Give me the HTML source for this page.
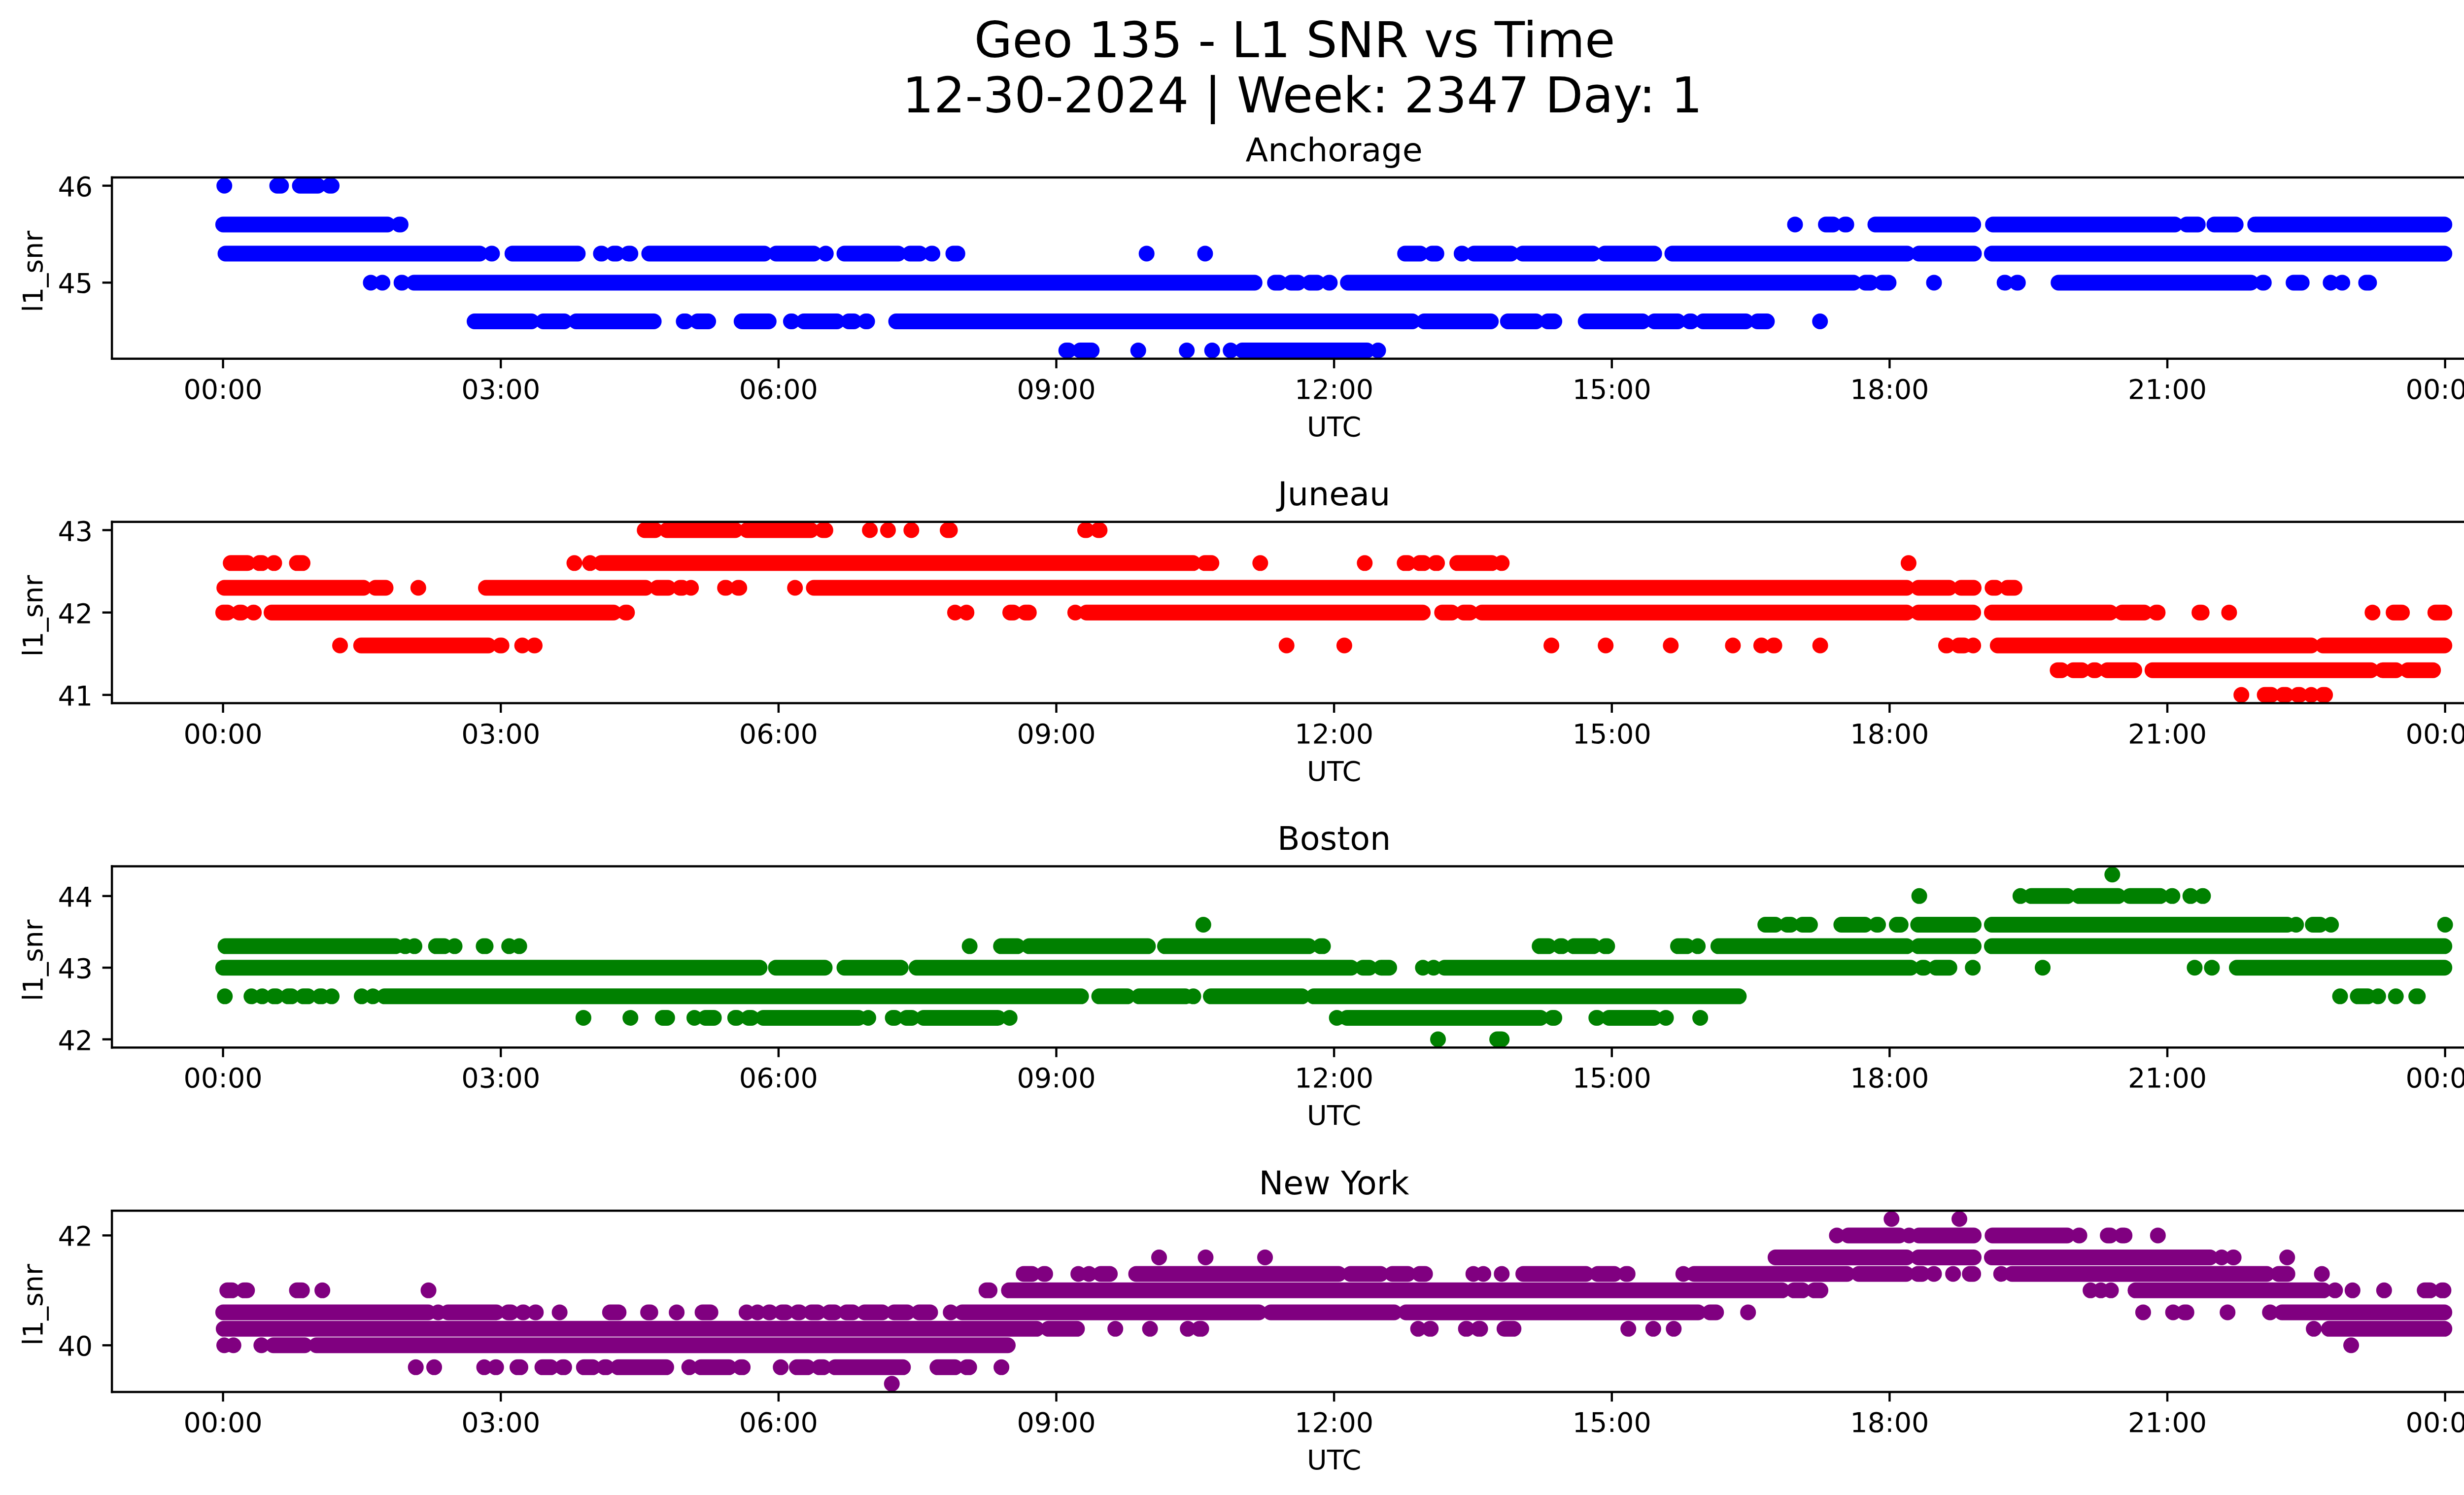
<!DOCTYPE html>
<html><head><meta charset="utf-8"><title>Geo 135 - L1 SNR vs Time</title><style>html,body{margin:0;padding:0;background:#fff;}svg{display:block;}</style></head><body>
<svg width="5226" height="3033" viewBox="0 0 940.6800 545.9400">
 
 <defs>
  <style type="text/css">*{stroke-linejoin: round; stroke-linecap: butt}</style>
 </defs>
 <g id="figure_1">
  <g id="patch_1">
   <path d="M 0 545.87625 
L 940.88125 545.87625 
L 940.88125 0 
L 0 0 
z
" style="fill: #ffffff"/>
  </g>
  <g id="axes_1">
   <g id="patch_2">
    <path d="M 40.88125 130.997015 
L 933.68125 130.997015 
L 933.68125 64.8 
L 40.88125 64.8 
z
" style="fill: #ffffff"/>
   </g>
   <g clip-path="url(#pc7c0ab1081)"><path transform="scale(0.1800000)" d="M455.20 376.72H455.25M562.50 376.72H570.30M608.50 376.72H644.90M668.90 376.72H673.00M452.90 455.38H786.20M810.20 455.38H812.90M3642.50 455.38H3642.55M3705.10 455.38H3719.80M3743.80 455.38H3746.60M3805.50 455.38H4004.10M4044.20 455.38H4413.30M4437.30 455.38H4459.80M4493.40 455.38H4536.70M4576.30 455.38H4960.20M457.50 514.38H973.50M997.50 514.38H998.40M1039.80 514.38H1172.40M1219.40 514.38H1221.20M1245.20 514.38H1251.10M1275.10 514.38H1279.20M1317.40 514.38H1551.00M1575.00 514.38H1651.40M1675.40 514.38H1675.80M1713.50 514.38H1822.60M1846.60 514.38H1866.30M1890.30 514.38H1892.10M1934.50 514.38H1942.80M2326.70 514.38H2326.75M2445.40 514.38H2445.45M2851.20 514.38H2882.00M2906.00 514.38H2914.80M2965.90 514.38H2967.20M2991.20 514.38H3066.00M3090.00 514.38H3232.50M3256.50 514.38H3356.70M3393.50 514.38H3870.00M3894.00 514.38H4005.50M4041.90 514.38H4960.20M752.40 573.38H752.45M775.70 573.38H776.10M814.70 573.38H816.10M840.10 573.38H2545.80M2587.20 573.38H2596.00M2620.00 573.38H2634.10M2658.10 573.38H2672.80M2696.80 573.38H2698.40M2735.20 573.38H3761.20M3785.20 573.38H3795.80M3819.80 573.38H3832.40M3924.50 573.38H3924.55M4067.70 573.38H4069.00M4093.00 573.38H4094.80M4177.20 573.38H4567.50M4591.50 573.38H4593.80M4654.10 573.38H4670.70M4729.35 573.38H4729.40M4752.60 573.38H4753.10M4801.40 573.38H4807.40M963.00 652.05H1078.50M1102.50 652.05H1145.20M1169.20 652.05H1326.60M1387.40 652.05H1391.50M1415.50 652.05H1437.10M1504.80 652.05H1559.80M1604.90 652.05H1607.20M1631.20 652.05H1698.30M1722.30 652.05H1732.80M1756.80 652.05H1759.60M1818.50 652.05H2866.00M2890.00 652.05H3025.20M3059.80 652.05H3116.80M3140.80 652.05H3154.10M3217.70 652.05H3333.20M3357.20 652.05H3404.50M3428.50 652.05H3432.10M3456.10 652.05H3542.60M3566.60 652.05H3585.40M3693.20 652.05H3693.25M2163.70 711.04H2167.90M2191.90 711.04H2215.30M2309.70 711.04H2309.75M2408.20 711.04H2408.25M2459.70 711.04H2459.75M2497.20 711.04H2497.25M2520.90 711.04H2773.90M2796.50 711.04H2796.55" style="fill:none;stroke:#0000ff;stroke-width:32.00;stroke-linecap:round"/></g>
   <g id="matplotlib.axis_1">
    <g id="xtick_1">
     <g id="line2d_1">
      <defs>
       <path id="m1504cfccaf" d="M 0 0 
L 0 3.5 
" style="stroke: #000000; stroke-width: 0.8"/>
      </defs>
      <g>
       <use href="#m1504cfccaf" x="81.463068" y="130.997015" style="stroke: #000000; stroke-width: 0.8"/>
      </g>
     </g>
     <g id="text_1">
      <text style="font-size: 10px; font-family: 'DejaVu Sans', sans-serif; text-anchor: middle" x="81.463068" y="145.595452" transform="rotate(-0 81.463068 145.595452)">00:00</text>
     </g>
    </g>
    <g id="xtick_2">
     <g id="line2d_2">
      <g>
       <use href="#m1504cfccaf" x="182.917614" y="130.997015" style="stroke: #000000; stroke-width: 0.8"/>
      </g>
     </g>
     <g id="text_2">
      <text style="font-size: 10px; font-family: 'DejaVu Sans', sans-serif; text-anchor: middle" x="182.917614" y="145.595452" transform="rotate(-0 182.917614 145.595452)">03:00</text>
     </g>
    </g>
    <g id="xtick_3">
     <g id="line2d_3">
      <g>
       <use href="#m1504cfccaf" x="284.372159" y="130.997015" style="stroke: #000000; stroke-width: 0.8"/>
      </g>
     </g>
     <g id="text_3">
      <text style="font-size: 10px; font-family: 'DejaVu Sans', sans-serif; text-anchor: middle" x="284.372159" y="145.595452" transform="rotate(-0 284.372159 145.595452)">06:00</text>
     </g>
    </g>
    <g id="xtick_4">
     <g id="line2d_4">
      <g>
       <use href="#m1504cfccaf" x="385.826705" y="130.997015" style="stroke: #000000; stroke-width: 0.8"/>
      </g>
     </g>
     <g id="text_4">
      <text style="font-size: 10px; font-family: 'DejaVu Sans', sans-serif; text-anchor: middle" x="385.826705" y="145.595452" transform="rotate(-0 385.826705 145.595452)">09:00</text>
     </g>
    </g>
    <g id="xtick_5">
     <g id="line2d_5">
      <g>
       <use href="#m1504cfccaf" x="487.28125" y="130.997015" style="stroke: #000000; stroke-width: 0.8"/>
      </g>
     </g>
     <g id="text_5">
      <text style="font-size: 10px; font-family: 'DejaVu Sans', sans-serif; text-anchor: middle" x="487.28125" y="145.595452" transform="rotate(-0 487.28125 145.595452)">12:00</text>
     </g>
    </g>
    <g id="xtick_6">
     <g id="line2d_6">
      <g>
       <use href="#m1504cfccaf" x="588.735795" y="130.997015" style="stroke: #000000; stroke-width: 0.8"/>
      </g>
     </g>
     <g id="text_6">
      <text style="font-size: 10px; font-family: 'DejaVu Sans', sans-serif; text-anchor: middle" x="588.735795" y="145.595452" transform="rotate(-0 588.735795 145.595452)">15:00</text>
     </g>
    </g>
    <g id="xtick_7">
     <g id="line2d_7">
      <g>
       <use href="#m1504cfccaf" x="690.190341" y="130.997015" style="stroke: #000000; stroke-width: 0.8"/>
      </g>
     </g>
     <g id="text_7">
      <text style="font-size: 10px; font-family: 'DejaVu Sans', sans-serif; text-anchor: middle" x="690.190341" y="145.595452" transform="rotate(-0 690.190341 145.595452)">18:00</text>
     </g>
    </g>
    <g id="xtick_8">
     <g id="line2d_8">
      <g>
       <use href="#m1504cfccaf" x="791.644886" y="130.997015" style="stroke: #000000; stroke-width: 0.8"/>
      </g>
     </g>
     <g id="text_8">
      <text style="font-size: 10px; font-family: 'DejaVu Sans', sans-serif; text-anchor: middle" x="791.644886" y="145.595452" transform="rotate(-0 791.644886 145.595452)">21:00</text>
     </g>
    </g>
    <g id="xtick_9">
     <g id="line2d_9">
      <g>
       <use href="#m1504cfccaf" x="893.099432" y="130.997015" style="stroke: #000000; stroke-width: 0.8"/>
      </g>
     </g>
     <g id="text_9">
      <text style="font-size: 10px; font-family: 'DejaVu Sans', sans-serif; text-anchor: middle" x="893.099432" y="145.595452" transform="rotate(-0 893.099432 145.595452)">00:00</text>
     </g>
    </g>
    <g id="text_10">
     <text style="font-size: 10px; font-family: 'DejaVu Sans', sans-serif; text-anchor: middle" x="487.28125" y="159.273577" transform="rotate(-0 487.28125 159.273577)">UTC</text>
    </g>
   </g>
   <g id="matplotlib.axis_2">
    <g id="ytick_1">
     <g id="line2d_10">
      <defs>
       <path id="m5d545ce8f8" d="M 0 0 
L -3.5 0 
" style="stroke: #000000; stroke-width: 0.8"/>
      </defs>
      <g>
       <use href="#m5d545ce8f8" x="40.88125" y="103.208428" style="stroke: #000000; stroke-width: 0.8"/>
      </g>
     </g>
     <g id="text_11">
      <text style="font-size: 10px; font-family: 'DejaVu Sans', sans-serif; text-anchor: end" x="33.88125" y="107.007647" transform="rotate(-0 33.88125 107.007647)">45</text>
     </g>
    </g>
    <g id="ytick_2">
     <g id="line2d_11">
      <g>
       <use href="#m5d545ce8f8" x="40.88125" y="67.808955" style="stroke: #000000; stroke-width: 0.8"/>
      </g>
     </g>
     <g id="text_12">
      <text style="font-size: 10px; font-family: 'DejaVu Sans', sans-serif; text-anchor: end" x="33.88125" y="71.608174" transform="rotate(-0 33.88125 71.608174)">46</text>
     </g>
    </g>
    <g id="text_13">
     <g transform="translate(0.729 1.215)"><text style="font-size: 10px; font-family: 'DejaVu Sans', sans-serif; text-anchor: middle" x="14.798437" y="97.898507" transform="rotate(-90 14.798437 97.898507)">l1_snr</text></g>
    </g>
   </g>
   <g id="patch_3">
    <path d="M 40.88125 130.997015 
L 40.88125 64.8 
" style="fill: none; stroke: #000000; stroke-width: 0.8; stroke-linejoin: miter; stroke-linecap: square"/>
   </g>
   <g id="patch_4">
    <path d="M 933.68125 130.997015 
L 933.68125 64.8 
" style="fill: none; stroke: #000000; stroke-width: 0.8; stroke-linejoin: miter; stroke-linecap: square"/>
   </g>
   <g id="patch_5">
    <path d="M 40.88125 130.997015 
L 933.68125 130.997015 
" style="fill: none; stroke: #000000; stroke-width: 0.8; stroke-linejoin: miter; stroke-linecap: square"/>
   </g>
   <g id="patch_6">
    <path d="M 40.88125 64.8 
L 933.68125 64.8 
" style="fill: none; stroke: #000000; stroke-width: 0.8; stroke-linejoin: miter; stroke-linecap: square"/>
   </g>
   <g id="text_14">
    <text style="font-size: 12px; font-family: 'DejaVu Sans', sans-serif; text-anchor: middle" x="487.28125" y="58.8" transform="rotate(-0 487.28125 58.8)">Anchorage</text>
   </g>
  </g>
  <g id="axes_2">
   <g id="patch_7">
    <path d="M 40.88125 256.771343 
L 933.68125 256.771343 
L 933.68125 190.574328 
L 40.88125 190.574328 
z
" style="fill: #ffffff"/>
   </g>
   <g clip-path="url(#p37e5c32da8)"><path transform="scale(0.1800000)" d="M1308.20 1075.46H1329.40M1353.40 1075.46H1492.00M1516.00 1075.46H1645.40M1669.40 1075.46H1674.90M1765.10 1075.46H1765.15M1801.90 1075.46H1801.95M1849.30 1075.46H1849.35M1923.00 1075.46H1927.60M2202.00 1075.46H2204.70M2228.70 1075.46H2231.40M468.10 1142.33H502.20M526.20 1142.33H531.60M555.60 1142.33H556.50M602.50 1142.33H614.00M1165.50 1142.33H1165.55M1197.25 1142.33H1197.30M1219.90 1142.33H2421.00M2445.00 1142.33H2458.30M2557.30 1142.33H2557.35M2769.30 1142.33H2769.35M2850.30 1142.33H2856.70M2880.70 1142.33H2889.00M2913.00 1142.33H2916.10M2957.10 1142.33H3027.00M3047.30 1142.33H3047.35M3872.90 1142.33H3872.95M455.20 1192.48H737.80M761.80 1192.48H782.50M848.80 1192.48H848.85M986.00 1192.48H1310.00M1334.00 1192.48H1356.00M1380.00 1192.48H1384.60M1402.10 1192.48H1402.15M1471.20 1192.48H1473.50M1497.50 1192.48H1500.20M1613.20 1192.48H1613.25M1651.40 1192.48H3869.00M3893.00 1192.48H3955.30M3979.30 1192.48H4005.00M4043.30 1192.48H4049.70M4073.70 1192.48H4087.90M452.90 1242.63H461.70M485.70 1242.63H490.20M514.20 1242.63H515.10M551.00 1242.63H1245.10M1269.10 1242.63H1272.30M1937.95 1242.63H1938.00M1961.20 1242.63H1961.25M2050.00 1242.63H2056.40M2080.40 1242.63H2087.80M2181.90 1242.63H2181.95M2204.70 1242.63H2887.10M2926.30 1242.63H2946.00M2970.00 1242.63H2983.00M3007.00 1242.63H3869.00M3893.00 1242.63H4004.10M4041.90 1242.63H4282.10M4306.10 1242.63H4351.20M4375.20 1242.63H4378.40M4463.10 1242.63H4467.70M4523.40 1242.63H4523.45M4814.30 1242.63H4814.35M4857.10 1242.63H4874.10M4941.80 1242.63H4960.20M690.00 1309.49H690.05M732.80 1309.49H991.00M1015.00 1309.49H1017.70M1059.60 1309.49H1060.10M1084.10 1309.49H1085.00M2610.70 1309.49H2610.75M2727.90 1309.49H2727.95M3148.10 1309.49H3148.15M3258.20 1309.49H3258.25M3390.30 1309.49H3390.35M3516.40 1309.49H3516.45M3573.90 1309.49H3574.80M3598.80 1309.49H3600.60M3693.60 1309.49H3693.65M3948.90 1309.49H3950.70M3974.70 1309.49H3985.20M4004.10 1309.49H4004.15M4053.80 1309.49H4690.00M4714.00 1309.49H4960.20M4175.40 1359.64H4183.20M4207.20 1359.64H4224.60M4248.60 1359.64H4252.20M4276.20 1359.64H4331.00M4367.80 1359.64H4811.00M4835.00 1359.64H4862.00M4886.00 1359.64H4937.20M4548.20 1409.79H4548.25M4595.60 1409.79H4609.00M4633.00 1409.79H4638.90M4662.90 1409.79H4666.50M4690.00 1409.79H4690.05M4713.50 1409.79H4718.10" style="fill:none;stroke:#ff0000;stroke-width:32.00;stroke-linecap:round"/></g>
   <g id="matplotlib.axis_3">
    <g id="xtick_10">
     <g id="line2d_12">
      <g>
       <use href="#m1504cfccaf" x="81.463068" y="256.771343" style="stroke: #000000; stroke-width: 0.8"/>
      </g>
     </g>
     <g id="text_15">
      <text style="font-size: 10px; font-family: 'DejaVu Sans', sans-serif; text-anchor: middle" x="81.463068" y="271.369781" transform="rotate(-0 81.463068 271.369781)">00:00</text>
     </g>
    </g>
    <g id="xtick_11">
     <g id="line2d_13">
      <g>
       <use href="#m1504cfccaf" x="182.917614" y="256.771343" style="stroke: #000000; stroke-width: 0.8"/>
      </g>
     </g>
     <g id="text_16">
      <text style="font-size: 10px; font-family: 'DejaVu Sans', sans-serif; text-anchor: middle" x="182.917614" y="271.369781" transform="rotate(-0 182.917614 271.369781)">03:00</text>
     </g>
    </g>
    <g id="xtick_12">
     <g id="line2d_14">
      <g>
       <use href="#m1504cfccaf" x="284.372159" y="256.771343" style="stroke: #000000; stroke-width: 0.8"/>
      </g>
     </g>
     <g id="text_17">
      <text style="font-size: 10px; font-family: 'DejaVu Sans', sans-serif; text-anchor: middle" x="284.372159" y="271.369781" transform="rotate(-0 284.372159 271.369781)">06:00</text>
     </g>
    </g>
    <g id="xtick_13">
     <g id="line2d_15">
      <g>
       <use href="#m1504cfccaf" x="385.826705" y="256.771343" style="stroke: #000000; stroke-width: 0.8"/>
      </g>
     </g>
     <g id="text_18">
      <text style="font-size: 10px; font-family: 'DejaVu Sans', sans-serif; text-anchor: middle" x="385.826705" y="271.369781" transform="rotate(-0 385.826705 271.369781)">09:00</text>
     </g>
    </g>
    <g id="xtick_14">
     <g id="line2d_16">
      <g>
       <use href="#m1504cfccaf" x="487.28125" y="256.771343" style="stroke: #000000; stroke-width: 0.8"/>
      </g>
     </g>
     <g id="text_19">
      <text style="font-size: 10px; font-family: 'DejaVu Sans', sans-serif; text-anchor: middle" x="487.28125" y="271.369781" transform="rotate(-0 487.28125 271.369781)">12:00</text>
     </g>
    </g>
    <g id="xtick_15">
     <g id="line2d_17">
      <g>
       <use href="#m1504cfccaf" x="588.735795" y="256.771343" style="stroke: #000000; stroke-width: 0.8"/>
      </g>
     </g>
     <g id="text_20">
      <text style="font-size: 10px; font-family: 'DejaVu Sans', sans-serif; text-anchor: middle" x="588.735795" y="271.369781" transform="rotate(-0 588.735795 271.369781)">15:00</text>
     </g>
    </g>
    <g id="xtick_16">
     <g id="line2d_18">
      <g>
       <use href="#m1504cfccaf" x="690.190341" y="256.771343" style="stroke: #000000; stroke-width: 0.8"/>
      </g>
     </g>
     <g id="text_21">
      <text style="font-size: 10px; font-family: 'DejaVu Sans', sans-serif; text-anchor: middle" x="690.190341" y="271.369781" transform="rotate(-0 690.190341 271.369781)">18:00</text>
     </g>
    </g>
    <g id="xtick_17">
     <g id="line2d_19">
      <g>
       <use href="#m1504cfccaf" x="791.644886" y="256.771343" style="stroke: #000000; stroke-width: 0.8"/>
      </g>
     </g>
     <g id="text_22">
      <text style="font-size: 10px; font-family: 'DejaVu Sans', sans-serif; text-anchor: middle" x="791.644886" y="271.369781" transform="rotate(-0 791.644886 271.369781)">21:00</text>
     </g>
    </g>
    <g id="xtick_18">
     <g id="line2d_20">
      <g>
       <use href="#m1504cfccaf" x="893.099432" y="256.771343" style="stroke: #000000; stroke-width: 0.8"/>
      </g>
     </g>
     <g id="text_23">
      <text style="font-size: 10px; font-family: 'DejaVu Sans', sans-serif; text-anchor: middle" x="893.099432" y="271.369781" transform="rotate(-0 893.099432 271.369781)">00:00</text>
     </g>
    </g>
    <g id="text_24">
     <text style="font-size: 10px; font-family: 'DejaVu Sans', sans-serif; text-anchor: middle" x="487.28125" y="285.047906" transform="rotate(-0 487.28125 285.047906)">UTC</text>
    </g>
   </g>
   <g id="matplotlib.axis_4">
    <g id="ytick_3">
     <g id="line2d_21">
      <g>
       <use href="#m5d545ce8f8" x="40.88125" y="253.762388" style="stroke: #000000; stroke-width: 0.8"/>
      </g>
     </g>
     <g id="text_25">
      <text style="font-size: 10px; font-family: 'DejaVu Sans', sans-serif; text-anchor: end" x="33.88125" y="257.561607" transform="rotate(-0 33.88125 257.561607)">41</text>
     </g>
    </g>
    <g id="ytick_4">
     <g id="line2d_22">
      <g>
       <use href="#m5d545ce8f8" x="40.88125" y="223.672836" style="stroke: #000000; stroke-width: 0.8"/>
      </g>
     </g>
     <g id="text_26">
      <text style="font-size: 10px; font-family: 'DejaVu Sans', sans-serif; text-anchor: end" x="33.88125" y="227.472055" transform="rotate(-0 33.88125 227.472055)">42</text>
     </g>
    </g>
    <g id="ytick_5">
     <g id="line2d_23">
      <g>
       <use href="#m5d545ce8f8" x="40.88125" y="193.583284" style="stroke: #000000; stroke-width: 0.8"/>
      </g>
     </g>
     <g id="text_27">
      <text style="font-size: 10px; font-family: 'DejaVu Sans', sans-serif; text-anchor: end" x="33.88125" y="197.382502" transform="rotate(-0 33.88125 197.382502)">43</text>
     </g>
    </g>
    <g id="text_28">
     <g transform="translate(0.729 1.215)"><text style="font-size: 10px; font-family: 'DejaVu Sans', sans-serif; text-anchor: middle" x="14.798437" y="223.672836" transform="rotate(-90 14.798437 223.672836)">l1_snr</text></g>
    </g>
   </g>
   <g id="patch_8">
    <path d="M 40.88125 256.771343 
L 40.88125 190.574328 
" style="fill: none; stroke: #000000; stroke-width: 0.8; stroke-linejoin: miter; stroke-linecap: square"/>
   </g>
   <g id="patch_9">
    <path d="M 933.68125 256.771343 
L 933.68125 190.574328 
" style="fill: none; stroke: #000000; stroke-width: 0.8; stroke-linejoin: miter; stroke-linecap: square"/>
   </g>
   <g id="patch_10">
    <path d="M 40.88125 256.771343 
L 933.68125 256.771343 
" style="fill: none; stroke: #000000; stroke-width: 0.8; stroke-linejoin: miter; stroke-linecap: square"/>
   </g>
   <g id="patch_11">
    <path d="M 40.88125 190.574328 
L 933.68125 190.574328 
" style="fill: none; stroke: #000000; stroke-width: 0.8; stroke-linejoin: miter; stroke-linecap: square"/>
   </g>
   <g id="text_29">
    <text style="font-size: 12px; font-family: 'DejaVu Sans', sans-serif; text-anchor: middle" x="487.28125" y="184.574328" transform="rotate(-0 487.28125 184.574328)">Juneau</text>
   </g>
  </g>
  <g id="axes_3">
   <g id="patch_12">
    <path d="M 40.88125 382.545672 
L 933.68125 382.545672 
L 933.68125 316.348657 
L 40.88125 316.348657 
z
" style="fill: #ffffff"/>
   </g>
   <g clip-path="url(#pacfd43c42e)"><path transform="scale(0.1800000)" d="M4286.30 1774.21H4286.35M3894.60 1817.82H3894.65M4099.85 1817.82H4099.90M4122.00 1817.82H4195.00M4219.00 1817.82H4298.00M4322.00 1817.82H4383.40M4407.40 1817.82H4408.30M4444.70 1817.82H4445.50M4469.50 1817.82H4470.40M2441.80 1875.96H2441.85M3582.20 1875.96H3602.50M3626.50 1875.96H3633.70M3657.70 1875.96H3672.90M3736.40 1875.96H3784.30M3808.30 1875.96H3811.00M3849.00 1875.96H3856.80M3892.30 1875.96H4005.00M4041.90 1875.96H4641.20M4659.20 1875.96H4659.25M4693.20 1875.96H4707.90M4730.10 1875.96H4730.15M4961.60 1875.96H4961.65M457.50 1919.57H802.30M822.35 1919.57H822.40M841.00 1919.57H841.05M884.70 1919.57H901.30M922.50 1919.57H922.55M981.40 1919.57H985.50M1033.15 1919.57H1033.20M1053.70 1919.57H1053.75M1967.60 1919.57H1967.65M2031.20 1919.57H2064.30M2088.30 1919.57H2329.40M2364.00 1919.57H2655.80M2679.80 1919.57H2684.60M3124.20 1919.57H3142.10M3166.10 1919.57H3169.70M3193.70 1919.57H3233.30M3257.30 1919.57H3261.40M3405.00 1919.57H3422.90M3445.10 1919.57H3445.15M3486.90 1919.57H3869.00M3893.00 1919.57H4005.00M4041.90 1919.57H4960.20M452.90 1963.18H1541.40M1574.50 1963.18H1673.50M1713.50 1963.18H1827.70M1859.90 1963.18H2741.70M2765.70 1963.18H2778.50M2802.50 1963.18H2819.00M2887.40 1963.18H2887.45M2909.05 1963.18H2909.10M2931.40 1963.18H3877.00M3901.00 1963.18H3904.70M3928.70 1963.18H3955.80M4003.20 1963.18H4003.25M4145.00 1963.18H4145.05M4453.40 1963.18H4453.45M4488.40 1963.18H4488.45M4539.00 1963.18H4960.20M456.20 2021.32H456.25M510.25 2021.32H510.30M532.10 2021.32H532.15M555.60 2021.32H560.60M584.60 2021.32H591.50M615.50 2021.32H625.10M649.10 2021.32H652.70M673.00 2021.32H673.05M733.95 2021.32H734.00M756.75 2021.32H756.80M780.30 2021.32H2193.70M2230.50 2021.32H2287.50M2311.50 2021.32H2404.90M2421.50 2021.32H2421.55M2457.00 2021.32H2642.00M2666.00 2021.32H3528.40M4748.50 2021.32H4748.55M4784.40 2021.32H4804.60M4825.80 2021.32H4825.85M4861.70 2021.32H4861.75M4903.10 2021.32H4906.30M1183.90 2064.93H1183.95M1279.20 2064.93H1279.25M1345.00 2064.93H1353.80M1409.00 2064.93H1409.05M1431.60 2064.93H1448.60M1491.90 2064.93H1495.10M1519.10 2064.93H1525.00M1549.00 2064.93H1742.10M1761.90 2064.93H1761.95M1811.60 2064.93H1815.70M1839.70 2064.93H1850.20M1874.20 2064.93H2025.10M2048.70 2064.93H2048.75M2712.65 2064.93H2712.70M2733.40 2064.93H3126.00M3150.00 2064.93H3154.10M3239.30 2064.93H3241.10M3265.10 2064.93H3356.20M3380.20 2064.93H3380.60M3450.10 2064.93H3450.15M2918.00 2108.54H2918.05M3038.10 2108.54H3047.30" style="fill:none;stroke:#008000;stroke-width:32.00;stroke-linecap:round"/></g>
   <g id="matplotlib.axis_5">
    <g id="xtick_19">
     <g id="line2d_24">
      <g>
       <use href="#m1504cfccaf" x="81.463068" y="382.545672" style="stroke: #000000; stroke-width: 0.8"/>
      </g>
     </g>
     <g id="text_30">
      <text style="font-size: 10px; font-family: 'DejaVu Sans', sans-serif; text-anchor: middle" x="81.463068" y="397.144109" transform="rotate(-0 81.463068 397.144109)">00:00</text>
     </g>
    </g>
    <g id="xtick_20">
     <g id="line2d_25">
      <g>
       <use href="#m1504cfccaf" x="182.917614" y="382.545672" style="stroke: #000000; stroke-width: 0.8"/>
      </g>
     </g>
     <g id="text_31">
      <text style="font-size: 10px; font-family: 'DejaVu Sans', sans-serif; text-anchor: middle" x="182.917614" y="397.144109" transform="rotate(-0 182.917614 397.144109)">03:00</text>
     </g>
    </g>
    <g id="xtick_21">
     <g id="line2d_26">
      <g>
       <use href="#m1504cfccaf" x="284.372159" y="382.545672" style="stroke: #000000; stroke-width: 0.8"/>
      </g>
     </g>
     <g id="text_32">
      <text style="font-size: 10px; font-family: 'DejaVu Sans', sans-serif; text-anchor: middle" x="284.372159" y="397.144109" transform="rotate(-0 284.372159 397.144109)">06:00</text>
     </g>
    </g>
    <g id="xtick_22">
     <g id="line2d_27">
      <g>
       <use href="#m1504cfccaf" x="385.826705" y="382.545672" style="stroke: #000000; stroke-width: 0.8"/>
      </g>
     </g>
     <g id="text_33">
      <text style="font-size: 10px; font-family: 'DejaVu Sans', sans-serif; text-anchor: middle" x="385.826705" y="397.144109" transform="rotate(-0 385.826705 397.144109)">09:00</text>
     </g>
    </g>
    <g id="xtick_23">
     <g id="line2d_28">
      <g>
       <use href="#m1504cfccaf" x="487.28125" y="382.545672" style="stroke: #000000; stroke-width: 0.8"/>
      </g>
     </g>
     <g id="text_34">
      <text style="font-size: 10px; font-family: 'DejaVu Sans', sans-serif; text-anchor: middle" x="487.28125" y="397.144109" transform="rotate(-0 487.28125 397.144109)">12:00</text>
     </g>
    </g>
    <g id="xtick_24">
     <g id="line2d_29">
      <g>
       <use href="#m1504cfccaf" x="588.735795" y="382.545672" style="stroke: #000000; stroke-width: 0.8"/>
      </g>
     </g>
     <g id="text_35">
      <text style="font-size: 10px; font-family: 'DejaVu Sans', sans-serif; text-anchor: middle" x="588.735795" y="397.144109" transform="rotate(-0 588.735795 397.144109)">15:00</text>
     </g>
    </g>
    <g id="xtick_25">
     <g id="line2d_30">
      <g>
       <use href="#m1504cfccaf" x="690.190341" y="382.545672" style="stroke: #000000; stroke-width: 0.8"/>
      </g>
     </g>
     <g id="text_36">
      <text style="font-size: 10px; font-family: 'DejaVu Sans', sans-serif; text-anchor: middle" x="690.190341" y="397.144109" transform="rotate(-0 690.190341 397.144109)">18:00</text>
     </g>
    </g>
    <g id="xtick_26">
     <g id="line2d_31">
      <g>
       <use href="#m1504cfccaf" x="791.644886" y="382.545672" style="stroke: #000000; stroke-width: 0.8"/>
      </g>
     </g>
     <g id="text_37">
      <text style="font-size: 10px; font-family: 'DejaVu Sans', sans-serif; text-anchor: middle" x="791.644886" y="397.144109" transform="rotate(-0 791.644886 397.144109)">21:00</text>
     </g>
    </g>
    <g id="xtick_27">
     <g id="line2d_32">
      <g>
       <use href="#m1504cfccaf" x="893.099432" y="382.545672" style="stroke: #000000; stroke-width: 0.8"/>
      </g>
     </g>
     <g id="text_38">
      <text style="font-size: 10px; font-family: 'DejaVu Sans', sans-serif; text-anchor: middle" x="893.099432" y="397.144109" transform="rotate(-0 893.099432 397.144109)">00:00</text>
     </g>
    </g>
    <g id="text_39">
     <text style="font-size: 10px; font-family: 'DejaVu Sans', sans-serif; text-anchor: middle" x="487.28125" y="410.822234" transform="rotate(-0 487.28125 410.822234)">UTC</text>
    </g>
   </g>
   <g id="matplotlib.axis_6">
    <g id="ytick_6">
     <g id="line2d_33">
      <g>
       <use href="#m5d545ce8f8" x="40.88125" y="379.536716" style="stroke: #000000; stroke-width: 0.8"/>
      </g>
     </g>
     <g id="text_40">
      <text style="font-size: 10px; font-family: 'DejaVu Sans', sans-serif; text-anchor: end" x="33.88125" y="383.335935" transform="rotate(-0 33.88125 383.335935)">42</text>
     </g>
    </g>
    <g id="ytick_7">
     <g id="line2d_34">
      <g>
       <use href="#m5d545ce8f8" x="40.88125" y="353.371888" style="stroke: #000000; stroke-width: 0.8"/>
      </g>
     </g>
     <g id="text_41">
      <text style="font-size: 10px; font-family: 'DejaVu Sans', sans-serif; text-anchor: end" x="33.88125" y="357.171107" transform="rotate(-0 33.88125 357.171107)">43</text>
     </g>
    </g>
    <g id="ytick_8">
     <g id="line2d_35">
      <g>
       <use href="#m5d545ce8f8" x="40.88125" y="327.20706" style="stroke: #000000; stroke-width: 0.8"/>
      </g>
     </g>
     <g id="text_42">
      <text style="font-size: 10px; font-family: 'DejaVu Sans', sans-serif; text-anchor: end" x="33.88125" y="331.006279" transform="rotate(-0 33.88125 331.006279)">44</text>
     </g>
    </g>
    <g id="text_43">
     <g transform="translate(0.729 1.215)"><text style="font-size: 10px; font-family: 'DejaVu Sans', sans-serif; text-anchor: middle" x="14.798437" y="349.447164" transform="rotate(-90 14.798437 349.447164)">l1_snr</text></g>
    </g>
   </g>
   <g id="patch_13">
    <path d="M 40.88125 382.545672 
L 40.88125 316.348657 
" style="fill: none; stroke: #000000; stroke-width: 0.8; stroke-linejoin: miter; stroke-linecap: square"/>
   </g>
   <g id="patch_14">
    <path d="M 933.68125 382.545672 
L 933.68125 316.348657 
" style="fill: none; stroke: #000000; stroke-width: 0.8; stroke-linejoin: miter; stroke-linecap: square"/>
   </g>
   <g id="patch_15">
    <path d="M 40.88125 382.545672 
L 933.68125 382.545672 
" style="fill: none; stroke: #000000; stroke-width: 0.8; stroke-linejoin: miter; stroke-linecap: square"/>
   </g>
   <g id="patch_16">
    <path d="M 40.88125 316.348657 
L 933.68125 316.348657 
" style="fill: none; stroke: #000000; stroke-width: 0.8; stroke-linejoin: miter; stroke-linecap: square"/>
   </g>
   <g id="text_44">
    <text style="font-size: 12px; font-family: 'DejaVu Sans', sans-serif; text-anchor: middle" x="487.28125" y="310.348657" transform="rotate(-0 487.28125 310.348657)">Boston</text>
   </g>
  </g>
  <g id="axes_4">
   <g id="patch_17">
    <path d="M 40.88125 508.32 
L 933.68125 508.32 
L 933.68125 442.122985 
L 40.88125 442.122985 
z
" style="fill: #ffffff"/>
   </g>
   <g clip-path="url(#pfaadddbb3b)"><path transform="scale(0.1800000)" d="M3838.30 2472.96H3838.35M3976.00 2472.96H3976.05M3727.40 2506.39H3727.45M3750.70 2506.39H3854.00M3874.05 2506.39H3874.10M3894.10 2506.39H4005.00M4043.30 2506.39H4194.70M4218.70 2506.39H4219.60M4277.10 2506.39H4282.10M4306.10 2506.39H4311.20M4378.80 2506.39H4378.85M2352.00 2550.97H2352.05M2446.40 2550.97H2446.45M2567.00 2550.97H2567.05M3602.90 2550.97H3869.00M3893.00 2550.97H4005.00M4041.90 2550.97H4484.70M4508.20 2550.97H4508.25M4531.70 2550.97H4532.60M4641.20 2550.97H4641.25M2077.20 2584.40H2094.20M2118.20 2584.40H2120.90M2188.15 2584.40H2188.20M2209.80 2584.40H2209.85M2233.30 2584.40H2252.10M2305.50 2584.40H2716.30M2740.30 2584.40H2801.50M2825.50 2584.40H2856.70M2880.70 2584.40H2891.70M2989.75 2584.40H2989.80M3010.00 2584.40H3010.05M3047.30 2584.40H3047.35M3091.10 2584.40H3218.10M3242.10 2584.40H3275.60M3299.60 2584.40H3302.80M3415.80 2584.40H3415.85M3437.70 2584.40H3748.00M3772.00 2584.40H3867.80M3891.80 2584.40H3900.10M3924.10 2584.40H3924.50M3963.20 2584.40H3963.25M3997.20 2584.40H4004.10M4060.75 2584.40H4060.80M4082.90 2584.40H4599.70M4623.70 2584.40H4641.70M4711.60 2584.40H4711.65M461.20 2617.83H470.90M494.90 2617.83H501.30M602.50 2617.83H612.70M654.10 2617.83H654.15M869.50 2617.83H869.55M2001.70 2617.83H2008.10M2047.30 2617.83H3616.30M3640.30 2617.83H3657.70M3681.70 2617.83H3694.10M4242.10 2617.83H4242.15M4263.05 2617.83H4263.10M4283.50 2617.83H4283.55M4333.30 2617.83H4714.80M4738.30 2617.83H4738.35M4773.80 2617.83H4773.85M4837.80 2617.83H4837.85M4920.20 2617.83H4931.20M4955.20 2617.83H4958.40M452.90 2662.41H869.00M889.05 2662.41H889.10M909.10 2662.41H1007.10M1031.10 2662.41H1037.00M1061.00 2662.41H1062.40M1086.40 2662.41H1087.30M1135.60 2662.41H1135.65M1237.80 2662.41H1255.30M1315.10 2662.41H1319.70M1373.10 2662.41H1373.15M1425.60 2662.41H1441.70M1514.90 2662.41H1514.95M1537.00 2662.41H1537.05M1560.50 2662.41H1562.50M1586.50 2662.41H1594.70M1618.70 2662.41H1622.40M1646.40 2662.41H1659.20M1683.20 2662.41H1693.70M1717.70 2662.41H1730.50M1754.50 2662.41H1790.40M1814.40 2662.41H1841.00M1865.00 2662.41H1887.50M1929.20 2662.41H1929.25M1952.50 2662.41H2554.50M2578.50 2662.41H2829.10M2853.10 2662.41H3445.90M3469.90 2662.41H3482.30M3547.20 2662.41H3547.25M4348.90 2662.41H4348.95M4409.65 2662.41H4409.70M4432.70 2662.41H4436.80M4520.20 2662.41H4520.25M4606.20 2662.41H4606.70M4630.70 2662.41H4960.20M453.90 2695.84H2103.40M2127.40 2695.84H2185.40M2263.20 2695.84H2263.25M2333.60 2695.84H2333.65M2410.20 2695.84H2410.25M2433.50 2695.84H2437.60M2877.65 2695.84H2877.70M2901.40 2695.84H2903.30M2974.60 2695.84H2976.40M3000.40 2695.84H3003.60M3052.90 2695.84H3071.30M3304.20 2695.84H3304.25M3354.80 2695.84H3354.85M3396.30 2695.84H3396.35M4695.10 2695.84H4695.15M4725.90 2695.84H4960.20M455.00 2729.27H455.05M473.70 2729.27H473.75M530.30 2729.27H530.70M554.70 2729.27H618.20M642.20 2729.27H2045.00M4771.00 2729.27H4771.05M843.70 2773.85H843.75M881.00 2773.85H881.05M982.50 2773.85H982.55M1005.80 2773.85H1006.70M1050.00 2773.85H1056.00M1100.60 2773.85H1117.60M1141.60 2773.85H1144.80M1184.80 2773.85H1202.80M1226.80 2773.85H1230.40M1254.40 2773.85H1351.90M1398.65 2773.85H1398.70M1422.40 2773.85H1479.00M1503.00 2773.85H1507.10M1584.20 2773.85H1584.25M1616.90 2773.85H1638.50M1662.50 2773.85H1670.70M1694.70 2773.85H1832.30M1902.30 2773.85H1937.70M1961.70 2773.85H1966.70M2032.10 2773.85H2032.15M1809.70 2807.28H1809.75" style="fill:none;stroke:#800080;stroke-width:32.00;stroke-linecap:round"/></g>
   <g id="matplotlib.axis_7">
    <g id="xtick_28">
     <g id="line2d_36">
      <g>
       <use href="#m1504cfccaf" x="81.463068" y="508.32" style="stroke: #000000; stroke-width: 0.8"/>
      </g>
     </g>
     <g id="text_45">
      <text style="font-size: 10px; font-family: 'DejaVu Sans', sans-serif; text-anchor: middle" x="81.463068" y="522.918437" transform="rotate(-0 81.463068 522.918437)">00:00</text>
     </g>
    </g>
    <g id="xtick_29">
     <g id="line2d_37">
      <g>
       <use href="#m1504cfccaf" x="182.917614" y="508.32" style="stroke: #000000; stroke-width: 0.8"/>
      </g>
     </g>
     <g id="text_46">
      <text style="font-size: 10px; font-family: 'DejaVu Sans', sans-serif; text-anchor: middle" x="182.917614" y="522.918437" transform="rotate(-0 182.917614 522.918437)">03:00</text>
     </g>
    </g>
    <g id="xtick_30">
     <g id="line2d_38">
      <g>
       <use href="#m1504cfccaf" x="284.372159" y="508.32" style="stroke: #000000; stroke-width: 0.8"/>
      </g>
     </g>
     <g id="text_47">
      <text style="font-size: 10px; font-family: 'DejaVu Sans', sans-serif; text-anchor: middle" x="284.372159" y="522.918437" transform="rotate(-0 284.372159 522.918437)">06:00</text>
     </g>
    </g>
    <g id="xtick_31">
     <g id="line2d_39">
      <g>
       <use href="#m1504cfccaf" x="385.826705" y="508.32" style="stroke: #000000; stroke-width: 0.8"/>
      </g>
     </g>
     <g id="text_48">
      <text style="font-size: 10px; font-family: 'DejaVu Sans', sans-serif; text-anchor: middle" x="385.826705" y="522.918437" transform="rotate(-0 385.826705 522.918437)">09:00</text>
     </g>
    </g>
    <g id="xtick_32">
     <g id="line2d_40">
      <g>
       <use href="#m1504cfccaf" x="487.28125" y="508.32" style="stroke: #000000; stroke-width: 0.8"/>
      </g>
     </g>
     <g id="text_49">
      <text style="font-size: 10px; font-family: 'DejaVu Sans', sans-serif; text-anchor: middle" x="487.28125" y="522.918437" transform="rotate(-0 487.28125 522.918437)">12:00</text>
     </g>
    </g>
    <g id="xtick_33">
     <g id="line2d_41">
      <g>
       <use href="#m1504cfccaf" x="588.735795" y="508.32" style="stroke: #000000; stroke-width: 0.8"/>
      </g>
     </g>
     <g id="text_50">
      <text style="font-size: 10px; font-family: 'DejaVu Sans', sans-serif; text-anchor: middle" x="588.735795" y="522.918437" transform="rotate(-0 588.735795 522.918437)">15:00</text>
     </g>
    </g>
    <g id="xtick_34">
     <g id="line2d_42">
      <g>
       <use href="#m1504cfccaf" x="690.190341" y="508.32" style="stroke: #000000; stroke-width: 0.8"/>
      </g>
     </g>
     <g id="text_51">
      <text style="font-size: 10px; font-family: 'DejaVu Sans', sans-serif; text-anchor: middle" x="690.190341" y="522.918437" transform="rotate(-0 690.190341 522.918437)">18:00</text>
     </g>
    </g>
    <g id="xtick_35">
     <g id="line2d_43">
      <g>
       <use href="#m1504cfccaf" x="791.644886" y="508.32" style="stroke: #000000; stroke-width: 0.8"/>
      </g>
     </g>
     <g id="text_52">
      <text style="font-size: 10px; font-family: 'DejaVu Sans', sans-serif; text-anchor: middle" x="791.644886" y="522.918437" transform="rotate(-0 791.644886 522.918437)">21:00</text>
     </g>
    </g>
    <g id="xtick_36">
     <g id="line2d_44">
      <g>
       <use href="#m1504cfccaf" x="893.099432" y="508.32" style="stroke: #000000; stroke-width: 0.8"/>
      </g>
     </g>
     <g id="text_53">
      <text style="font-size: 10px; font-family: 'DejaVu Sans', sans-serif; text-anchor: middle" x="893.099432" y="522.918437" transform="rotate(-0 893.099432 522.918437)">00:00</text>
     </g>
    </g>
    <g id="text_54">
     <text style="font-size: 10px; font-family: 'DejaVu Sans', sans-serif; text-anchor: middle" x="487.28125" y="536.596562" transform="rotate(-0 487.28125 536.596562)">UTC</text>
    </g>
   </g>
   <g id="matplotlib.axis_8">
    <g id="ytick_9">
     <g id="line2d_45">
      <g>
       <use href="#m5d545ce8f8" x="40.88125" y="491.269254" style="stroke: #000000; stroke-width: 0.8"/>
      </g>
     </g>
     <g id="text_55">
      <text style="font-size: 10px; font-family: 'DejaVu Sans', sans-serif; text-anchor: end" x="33.88125" y="495.068472" transform="rotate(-0 33.88125 495.068472)">40</text>
     </g>
    </g>
    <g id="ytick_10">
     <g id="line2d_46">
      <g>
       <use href="#m5d545ce8f8" x="40.88125" y="451.149851" style="stroke: #000000; stroke-width: 0.8"/>
      </g>
     </g>
     <g id="text_56">
      <text style="font-size: 10px; font-family: 'DejaVu Sans', sans-serif; text-anchor: end" x="33.88125" y="454.949069" transform="rotate(-0 33.88125 454.949069)">42</text>
     </g>
    </g>
    <g id="text_57">
     <g transform="translate(0.729 1.215)"><text style="font-size: 10px; font-family: 'DejaVu Sans', sans-serif; text-anchor: middle" x="14.798437" y="475.221493" transform="rotate(-90 14.798437 475.221493)">l1_snr</text></g>
    </g>
   </g>
   <g id="patch_18">
    <path d="M 40.88125 508.32 
L 40.88125 442.122985 
" style="fill: none; stroke: #000000; stroke-width: 0.8; stroke-linejoin: miter; stroke-linecap: square"/>
   </g>
   <g id="patch_19">
    <path d="M 933.68125 508.32 
L 933.68125 442.122985 
" style="fill: none; stroke: #000000; stroke-width: 0.8; stroke-linejoin: miter; stroke-linecap: square"/>
   </g>
   <g id="patch_20">
    <path d="M 40.88125 508.32 
L 933.68125 508.32 
" style="fill: none; stroke: #000000; stroke-width: 0.8; stroke-linejoin: miter; stroke-linecap: square"/>
   </g>
   <g id="patch_21">
    <path d="M 40.88125 442.122985 
L 933.68125 442.122985 
" style="fill: none; stroke: #000000; stroke-width: 0.8; stroke-linejoin: miter; stroke-linecap: square"/>
   </g>
   <g id="text_58">
    <text style="font-size: 12px; font-family: 'DejaVu Sans', sans-serif; text-anchor: middle" x="487.28125" y="436.122985" transform="rotate(-0 487.28125 436.122985)">New York</text>
   </g>
  </g>
  <g id="text_59">
   <text style="font-size: 18px; font-family: 'DejaVu Sans', sans-serif" transform="translate(355.798281 20.877187)">Geo 135 - L1 SNR vs Time</text>
   <text style="font-size: 18px; font-family: 'DejaVu Sans', sans-serif" transform="translate(329.633243 41.12775)">12-30-2024 | Week: 2347 Day: 1</text>
  </g>
 </g>
 <defs>
  <clipPath id="pc7c0ab1081">
   <rect x="40.88125" y="64.8" width="892.8" height="66.197015"/>
  </clipPath>
  <clipPath id="p37e5c32da8">
   <rect x="40.88125" y="190.574328" width="892.8" height="66.197015"/>
  </clipPath>
  <clipPath id="pacfd43c42e">
   <rect x="40.88125" y="316.348657" width="892.8" height="66.197015"/>
  </clipPath>
  <clipPath id="pfaadddbb3b">
   <rect x="40.88125" y="442.122985" width="892.8" height="66.197015"/>
  </clipPath>
 </defs>
</svg>

</body></html>
